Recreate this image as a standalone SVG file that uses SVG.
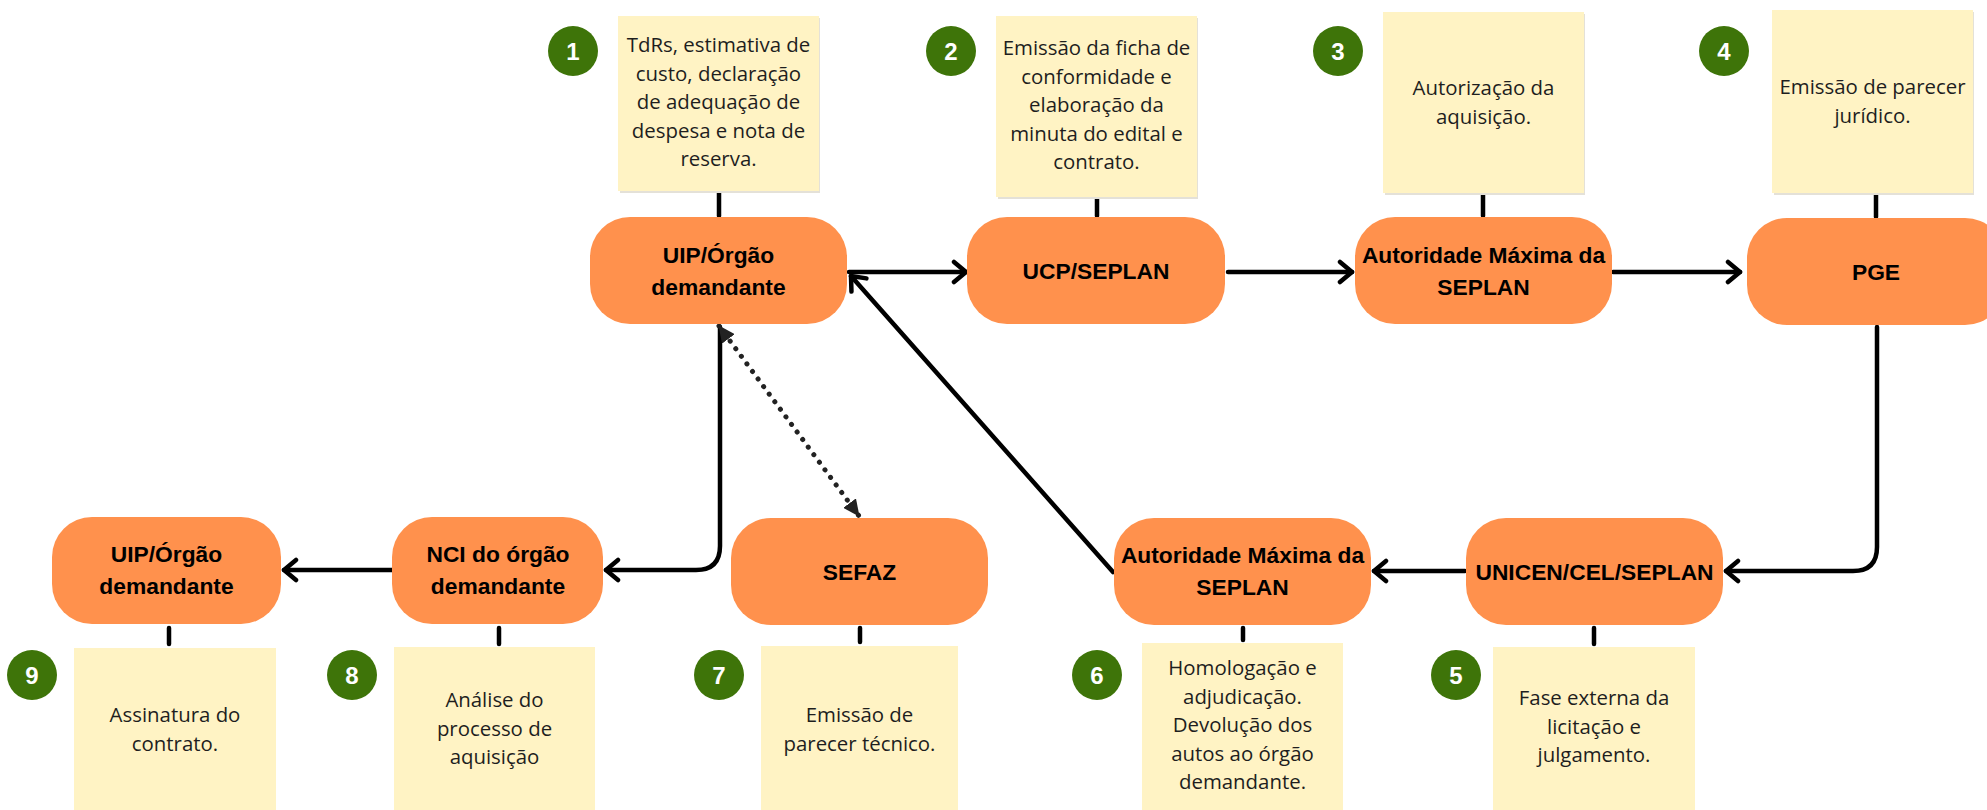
<svg xmlns="http://www.w3.org/2000/svg" width="1987" height="810" viewBox="0 0 1987 810">
<style>
.node{fill:#FF914D}
.ntext{font-family:"Liberation Sans",Arial,sans-serif;font-weight:bold;font-size:22.8px;fill:#000;text-anchor:middle}
.sticky{fill:#FFF3C4}
.shadow{fill:#E4E1D8}
.stext{font-family:"Open Sans",sans-serif;font-size:20.4px;fill:#1E1E1E;text-anchor:middle}
.badge{fill:#3E7409}
.btext{font-family:"Liberation Sans",Arial,sans-serif;font-weight:bold;font-size:24px;fill:#fff;text-anchor:middle}
.link{fill:none;stroke:#000;stroke-width:4.5;stroke-linecap:round;stroke-linejoin:round}
.tick{stroke:#000;stroke-width:4.5;stroke-linecap:round}
.dots{fill:none;stroke:#222;stroke-width:5;stroke-linecap:round;stroke-dasharray:0.1 9.3}
</style>
<defs>
<marker id="chev" markerUnits="userSpaceOnUse" viewBox="0 0 18 26" markerWidth="18" markerHeight="26" refX="15" refY="13" orient="auto">
<path d="M3,3 L15,13 L3,23" fill="none" stroke="#000" stroke-width="4.5" stroke-linecap="round" stroke-linejoin="round"/>
</marker>
<marker id="tri" markerUnits="userSpaceOnUse" viewBox="0 0 17 16" markerWidth="17" markerHeight="16" refX="16" refY="8" orient="auto-start-reverse">
<path d="M0,0 L17,8 L0,16 z" fill="#222"/>
</marker>
</defs>
<rect width="1987" height="810" fill="#fff"/>

<g id="connectors">
<line class="tick" x1="719" y1="193" x2="719" y2="216"/>
<line class="tick" x1="1097" y1="199" x2="1097" y2="216"/>
<line class="tick" x1="1483" y1="195" x2="1483" y2="216"/>
<line class="tick" x1="1876" y1="195" x2="1876" y2="217"/>
<line class="tick" x1="169" y1="628" x2="169" y2="644"/>
<line class="tick" x1="499" y1="628" x2="499" y2="644"/>
<line class="tick" x1="860" y1="628" x2="860" y2="642"/>
<line class="tick" x1="1243" y1="628" x2="1243" y2="640"/>
<line class="tick" x1="1594" y1="628" x2="1594" y2="644"/>
<path class="link" d="M849,272 H966" marker-end="url(#chev)"/>
<path class="link" d="M1228,272 H1352" marker-end="url(#chev)"/>
<path class="link" d="M1613,272 H1740" marker-end="url(#chev)"/>
<path class="link" d="M1877,327 V547 Q1877,571 1853,571 H1726" marker-end="url(#chev)"/>
<path class="link" d="M1465,571 H1374" marker-end="url(#chev)"/>
<path class="link" d="M1113,572 L851,276" marker-end="url(#chev)"/>
<path class="link" d="M720,327 V546 Q720,570 696,570 H606" marker-end="url(#chev)"/>
<path class="link" d="M393,570 H284" marker-end="url(#chev)"/>
<path class="dots" d="M719,326 L859,516" marker-start="url(#tri)" marker-end="url(#tri)"/>
</g>

<g id="n-uip-top">
<rect class="node" x="590" y="217" width="257" height="107" rx="40"/>
<text class="ntext" x="718.5" y="263">UIP/Órgão</text>
<text class="ntext" x="718.5" y="295">demandante</text>
</g>
<g id="n-ucp">
<rect class="node" x="967" y="217" width="258" height="107" rx="40"/>
<text class="ntext" x="1096" y="279">UCP/SEPLAN</text>
</g>
<g id="n-aut-top">
<rect class="node" x="1355" y="217" width="257" height="107" rx="40"/>
<text class="ntext" x="1483.5" y="263">Autoridade Máxima da</text>
<text class="ntext" x="1483.5" y="295">SEPLAN</text>
</g>
<g id="n-pge">
<rect class="node" x="1747" y="218" width="258" height="107" rx="40"/>
<text class="ntext" x="1876" y="280">PGE</text>
</g>

<g id="n-uip-bottom">
<rect class="node" x="52" y="517" width="229" height="107" rx="40"/>
<text class="ntext" x="166.5" y="562">UIP/Órgão</text>
<text class="ntext" x="166.5" y="594">demandante</text>
</g>
<g id="n-nci">
<rect class="node" x="392" y="517" width="211" height="107" rx="40"/>
<text class="ntext" x="498" y="562">NCI do órgão</text>
<text class="ntext" x="498" y="594">demandante</text>
</g>
<g id="n-sefaz">
<rect class="node" x="731" y="518" width="257" height="107" rx="40"/>
<text class="ntext" x="859.5" y="580">SEFAZ</text>
</g>
<g id="n-aut-bottom">
<rect class="node" x="1114" y="518" width="257" height="107" rx="40"/>
<text class="ntext" x="1242.5" y="563">Autoridade Máxima da</text>
<text class="ntext" x="1242.5" y="595">SEPLAN</text>
</g>
<g id="n-unicen">
<rect class="node" x="1466" y="518" width="257" height="107" rx="40"/>
<text class="ntext" x="1594.5" y="580">UNICEN/CEL/SEPLAN</text>
</g>

<g id="step-1">
<rect class="shadow" x="620" y="18" width="200" height="175"/>
<rect class="sticky" x="618" y="16" width="201" height="175"/>
<circle class="badge" cx="573" cy="51" r="25"/>
<text class="btext" x="573" y="59.5">1</text>
<text class="stext" x="718.5" y="52">TdRs, estimativa de</text>
<text class="stext" x="718.5" y="80.5">custo, declaração</text>
<text class="stext" x="718.5" y="109">de adequação de</text>
<text class="stext" x="718.5" y="137.5">despesa e nota de</text>
<text class="stext" x="718.5" y="166">reserva.</text>
</g>
<g id="step-2">
<rect class="shadow" x="998" y="18" width="200" height="181"/>
<rect class="sticky" x="996" y="16" width="201" height="181"/>
<circle class="badge" cx="951" cy="51" r="25"/>
<text class="btext" x="951" y="59.5">2</text>
<text class="stext" x="1096.5" y="55">Emissão da ficha de</text>
<text class="stext" x="1096.5" y="83.5">conformidade e</text>
<text class="stext" x="1096.5" y="112">elaboração da</text>
<text class="stext" x="1096.5" y="140.5">minuta do edital e</text>
<text class="stext" x="1096.5" y="169">contrato.</text>
</g>
<g id="step-3">
<rect class="shadow" x="1385" y="14" width="200" height="181"/>
<rect class="sticky" x="1383" y="12" width="201" height="181"/>
<circle class="badge" cx="1338" cy="51" r="25"/>
<text class="btext" x="1338" y="59.5">3</text>
<text class="stext" x="1483.5" y="95">Autorização da</text>
<text class="stext" x="1483.5" y="123.5">aquisição.</text>
</g>
<g id="step-4">
<rect class="shadow" x="1774" y="12" width="200" height="183"/>
<rect class="sticky" x="1772" y="10" width="201" height="183"/>
<circle class="badge" cx="1724" cy="51" r="25"/>
<text class="btext" x="1724" y="59.5">4</text>
<text class="stext" x="1872.5" y="94">Emissão de parecer</text>
<text class="stext" x="1872.5" y="122.5">jurídico.</text>
</g>
<g id="step-5">
<rect class="sticky" x="1493" y="647" width="202" height="165"/>
<circle class="badge" cx="1456" cy="675" r="25"/>
<text class="btext" x="1456" y="683.5">5</text>
<text class="stext" x="1594" y="705">Fase externa da</text>
<text class="stext" x="1594" y="733.5">licitação e</text>
<text class="stext" x="1594" y="762">julgamento.</text>
</g>
<g id="step-6">
<rect class="sticky" x="1142" y="643" width="201" height="169"/>
<circle class="badge" cx="1097" cy="675" r="25"/>
<text class="btext" x="1097" y="683.5">6</text>
<text class="stext" x="1242.5" y="675">Homologação e</text>
<text class="stext" x="1242.5" y="703.5">adjudicação.</text>
<text class="stext" x="1242.5" y="732">Devolução dos</text>
<text class="stext" x="1242.5" y="760.5">autos ao órgão</text>
<text class="stext" x="1242.5" y="789">demandante.</text>
</g>
<g id="step-7">
<rect class="sticky" x="761" y="646" width="197" height="166"/>
<circle class="badge" cx="719" cy="675" r="25"/>
<text class="btext" x="719" y="683.5">7</text>
<text class="stext" x="859.5" y="722">Emissão de</text>
<text class="stext" x="859.5" y="750.5">parecer técnico.</text>
</g>
<g id="step-8">
<rect class="sticky" x="394" y="647" width="201" height="165"/>
<circle class="badge" cx="352" cy="675" r="25"/>
<text class="btext" x="352" y="683.5">8</text>
<text class="stext" x="494.5" y="707">Análise do</text>
<text class="stext" x="494.5" y="735.5">processo de</text>
<text class="stext" x="494.5" y="764">aquisição</text>
</g>
<g id="step-9">
<rect class="sticky" x="74" y="648" width="202" height="164"/>
<circle class="badge" cx="32" cy="675" r="25"/>
<text class="btext" x="32" y="683.5">9</text>
<text class="stext" x="175" y="722">Assinatura do</text>
<text class="stext" x="175" y="750.5">contrato.</text>
</g>
</svg>
